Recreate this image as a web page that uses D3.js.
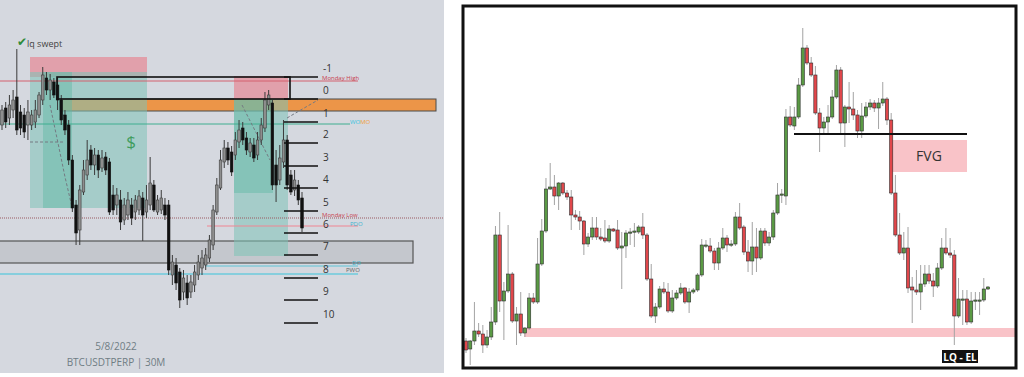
<!DOCTYPE html>
<html>
<head>
<meta charset="utf-8">
<script src="https://cdn.jsdelivr.net/npm/d3@7"></script>
<style>
  body { margin: 0; background: #fff; }
  svg { display: block; font-family: "Open Sans", "DejaVu Sans", sans-serif; }
</style>
</head>
<body>
<svg id="chart" width="1024" height="377"></svg>
<script>
// left panel candles: [open, high, low, close] (price units)
var leftCandles = [
  [248,268,243,263],[265,271,245,251],[255,278,248,268],[263,283,255,273],[276,324,238,243],
  [261,268,238,245],[258,265,235,241],[248,273,233,261],[248,263,243,258],[251,273,245,263],
  [258,281,255,278],[273,306,268,298],[295,301,278,283],[283,299,273,293],[291,295,275,278],
  [288,295,263,273],[273,278,248,253],[258,263,238,243],[248,253,208,213],[213,218,161,165],
  [168,173,128,140],[143,188,128,183],[181,213,178,203],[198,233,193,213],[223,228,203,208],
  [208,225,198,218],[218,223,195,203],[205,223,201,215],[216,221,198,203],[211,215,158,161],
  [178,188,158,163],[168,185,158,178],[173,183,143,151],[153,175,148,168],[158,181,153,173],
  [168,175,148,155],[161,178,153,173],[163,183,158,177],[175,181,132,158],[161,188,155,173],
  [168,216,163,190],[188,193,161,163],[161,178,158,173],[163,183,159,175],[168,175,153,158],
  [168,173,98,103],[98,118,88,111],[108,115,83,90],[101,105,65,73],[81,103,73,95],
  [90,98,68,75],[81,98,75,91],[88,108,81,101],[98,118,93,111],[105,123,98,115],
  [108,125,103,118],[115,138,111,133],[128,168,123,163],[161,195,158,188],[185,223,183,213],
  [211,233,205,225],[225,231,208,213],[221,227,197,201],[218,241,213,233],[231,253,225,243],
  [245,251,228,233],[235,241,218,223],[221,235,216,230],[228,235,211,215],[218,241,213,233],
  [233,255,228,248],[245,281,241,273],[268,283,263,278],[270,273,183,188],[208,223,171,188],
  [193,228,188,215],[211,253,205,233],[233,238,183,188],[198,203,178,181],[183,203,177,193],
  [188,193,168,173],[175,181,141,145]
];

// right panel candles: [open, high, low, close]
var rightCandles = [
  [29,32,17,20],[21,30,5,29],[29,68,25,39],[39,47,33,36],[36,45,17,25],
  [25,40,22,33],[33,63,30,48],[48,144,45,135],[135,158,58,69],[69,88,30,79],
  [79,145,77,96],[96,98,47,49],[49,63,25,56],[56,78,34,37],[37,43,33,42],
  [42,77,40,72],[72,77,66,68],[68,132,66,106],[106,151,104,139],[139,192,137,181],
  [181,207,180,183],[183,195,165,174],[174,188,160,187],[187,188,175,177],[177,180,170,173],
  [173,180,140,155],[155,160,150,153],[153,159,140,149],[149,150,115,126],[126,137,123,133],
  [133,153,130,142],[142,153,130,133],[133,142,129,131],[132,150,127,129],[129,145,127,141],
  [141,142,138,139],[140,150,120,122],[122,138,81,124],[124,140,112,137],[137,142,125,138],
  [138,147,123,139],[138,145,136,143],[143,157,131,135],[135,137,89,91],[91,106,52,54],
  [54,67,47,63],[63,84,61,81],[81,88,76,78],[78,87,57,59],[59,80,57,72],
  [72,80,70,77],[77,87,75,82],[82,83,66,68],[68,82,57,78],[78,82,76,80],
  [80,97,78,95],[95,131,93,125],[124,130,122,125],[124,132,117,119],[119,122,100,107],
  [107,128,100,122],[122,142,120,132],[132,135,118,125],[125,130,123,126],[126,158,124,153],
  [153,167,140,142],[143,145,115,118],[118,130,98,109],[109,148,95,123],[123,142,98,112],
  [112,142,110,139],[139,142,124,127],[127,138,124,133],[133,160,130,157],[157,187,155,175],
  [175,181,167,176],[174,261,165,253],[253,264,243,245],[244,263,240,253],[253,292,251,285],
  [285,342,283,322],[322,325,305,307],[307,313,293,295],[295,304,255,257],[257,262,218,242],
  [242,253,235,248],[248,265,235,253],[253,280,251,273],[273,305,271,300],[300,303,237,247],
  [247,265,223,263],[263,288,247,261],[261,278,250,255],[255,260,232,239],[239,267,232,254],
  [254,268,252,263],[263,271,260,267],[267,270,258,262],[262,272,241,267],[267,288,264,271],
  [271,273,245,250],[250,257,175,177],[177,195,133,135],[135,157,115,117],[117,138,110,122],
  [122,143,77,82],[83,93,47,80],[80,100,75,78],[78,105,60,86],[86,105,83,96],
  [96,105,86,89],[89,97,73,84],[84,107,82,102],[102,132,100,122],[122,142,115,117],
  [117,132,112,115],[115,120,25,54],[54,92,52,71],[70,80,45,71],[71,80,45,48],
  [48,78,46,69],[69,78,60,70],[69,78,55,70],[70,92,68,81],[81,84,80,83]
];

// levels on the left panel (price units)
var fibLevels = [-1,0,1,2,3,4,5,6,7,8,9,10];
var fibPrices = [296,274,251,230,207,185,162,140,118,95,73,50];
var keyLevels = [
  {name:"Monday High", price:292},
  {name:"WOMO", price:249},
  {name:"Monday Low", price:155},
  {name:"PDO", price:147},
  {name:"DO", price:107},
  {name:"PWO", price:99}
];
// right panel zones (price units)
var fvgZone = [198, 230];
var lqZone = [33, 42];
var breakLevel = 236;

var svg = d3.select("#chart");

// ---------- left panel ----------
var L = svg.append("g");
var lx = d3.scaleLinear().domain([0, leftCandles.length - 1]).range([2, 302]);
var ly = d3.scaleLinear().domain([0, 373]).range([373, 0]);

L.append("rect").attr("x",0).attr("y",0).attr("width",444).attr("height",373).attr("fill","#d5d8df");

// orange block and grey block (under the zones)
L.append("rect").attr("x",60).attr("y",ly(274)).attr("width",376).attr("height",ly(262)-ly(274))
  .attr("fill","#ec9548").attr("stroke","#4a4a4a").attr("stroke-width",1);
L.append("rect").attr("x",-1).attr("y",ly(132)).attr("width",414).attr("height",ly(110)-ly(132))
  .attr("fill","#c4c7cd").attr("stroke","#555").attr("stroke-width",1.2);

// zones
function zone(g, x0, x1, p0, p1, fill, op) {
  g.append("rect").attr("x",x0).attr("width",x1-x0)
    .attr("y",ly(p1)).attr("height",ly(p0)-ly(p1))
    .attr("fill",fill).attr("opacity",op);
}
zone(L, 30, 147, 296, 316, "#e48d9a", 0.75);
zone(L, 30, 147, 165, 301, "#7ec3b6", 0.55);
zone(L, 43, 72, 165, 301, "#5fb8a3", 0.45);
zone(L, 234, 288, 274, 297, "#e48d9a", 0.75);
zone(L, 234, 288, 117, 274, "#7ec3b6", 0.55);
zone(L, 234, 273, 180, 274, "#5fb8a3", 0.45);

// key level lines
var lvl = {};
keyLevels.forEach(function(d){ lvl[d.name] = d; });
function hline(x0, x1, p, col, w, dash) {
  var l = L.append("line").attr("x1",x0).attr("x2",x1).attr("y1",ly(p)).attr("y2",ly(p))
    .attr("stroke",col).attr("stroke-width",w);
  if (dash) l.attr("stroke-dasharray",dash);
}
hline(0, 358, lvl["Monday High"].price, "#d4606e", 1);
hline(0, 350, lvl["WOMO"].price, "#3eae90", 1);
hline(0, 444, lvl["Monday Low"].price, "#9a5a62", 1, "1,1");
hline(207, 358, lvl["PDO"].price, "#f08592", 1);
hline(205, 358, lvl["DO"].price, "#5cc4d6", 1);
hline(0, 358, lvl["PWO"].price, "#6ccbdc", 1.3);

// dashed guides
var dashLine = d3.line().x(function(d){return d[0];}).y(function(d){return d[1];});
function dashed(pts) {
  L.append("path").attr("d", dashLine(pts)).attr("fill","none")
    .attr("stroke","#747a82").attr("stroke-width",1).attr("stroke-dasharray","3,2");
}
dashed([[50,105],[58,143],[65,177],[72,207]]);
dashed([[30,142],[63,142]]);
dashed([[242,105],[270,160]]);
dashed([[287,118],[318,100]]);

// candles
var lc = L.append("g").selectAll("g").data(leftCandles).enter().append("g");
lc.append("line")
  .attr("x1",function(d,i){return lx(i);}).attr("x2",function(d,i){return lx(i);})
  .attr("y1",function(d){return ly(d[1]);}).attr("y2",function(d){return ly(d[2]);})
  .attr("stroke","#3a3a3a").attr("stroke-width",1);
lc.append("rect")
  .attr("x",function(d,i){return lx(i)-1.3;}).attr("width",2.6)
  .attr("y",function(d){return ly(Math.max(d[0],d[3]));})
  .attr("height",function(d){return Math.max(1, Math.abs(ly(d[0])-ly(d[3])));})
  .attr("fill",function(d){return d[3]>=d[0] ? "#8e8e8e" : "#111";})
  .attr("stroke",function(d){return d[3]>=d[0] ? "#3c3c3c" : "#111";})
  .attr("stroke-width",0.6);

// range box + fib levels
L.append("rect").attr("x",57).attr("y",ly(296)).attr("width",233).attr("height",ly(274)-ly(296))
  .attr("fill","none").attr("stroke","#111").attr("stroke-width",1.6);
L.selectAll(".fib").data(fibLevels).enter().append("line")
  .attr("x1",284).attr("x2",318)
  .attr("y1",function(d,i){return ly(fibPrices[i]);}).attr("y2",function(d,i){return ly(fibPrices[i]);})
  .attr("stroke","#111").attr("stroke-width",1.6);
L.selectAll(".fibt").data(fibLevels).enter().append("text")
  .attr("x",323).attr("y",function(d,i){return ly(fibPrices[i]) - 5;})
  .attr("font-size",10).attr("fill","#333").text(function(d){return d;});

// labels
function lab(x, p, dy, txt, col, size) {
  L.append("text").attr("x",x).attr("y",ly(p)+dy).attr("font-size",size||6)
    .attr("fill",col).text(txt);
}
lab(322, lvl["Monday High"].price, -1, "Monday High", "#c8404e");
lab(322, lvl["Monday Low"].price, -1, "Monday Low", "#c8404e");
lab(350, lvl["PDO"].price, 0, "PDO", "#3cb4d0");
lab(352, lvl["DO"].price, -1, "DO", "#3cb4d0");
lab(346, lvl["PWO"].price, -2, "PWO", "#666");
var wt = L.append("text").attr("x",350).attr("y",ly(lvl["WOMO"].price)).attr("font-size",6);
wt.append("tspan").attr("fill","#3cc4e0").text("WO");
wt.append("tspan").attr("fill","#f0a040").text("MO");

L.append("text").attr("x",17).attr("y",46).attr("font-size",12).attr("fill","#2e8b3a").text("\u2714");
L.append("text").attr("x",27).attr("y",47).attr("font-size",9).attr("fill","#444").text("lq swept");
L.append("text").attr("x",131).attr("y",148).attr("font-size",17)
  .attr("text-anchor","middle").attr("fill","#3f9d5e").text("$");
L.append("text").attr("x",116).attr("y",350).attr("font-size",10).attr("text-anchor","middle")
  .attr("fill","#6f7d84").text("5/8/2022");
L.append("text").attr("x",116).attr("y",366).attr("font-size",10).attr("text-anchor","middle")
  .attr("fill","#6f7d84").text("BTCUSDTPERP  |  30M");

// ---------- right panel ----------
var R = svg.append("g");
var rx = d3.scaleLinear().domain([0, rightCandles.length - 1]).range([466, 988]);
var ry = d3.scaleLinear().domain([0, 370]).range([370, 0]);

R.append("rect").attr("x",463).attr("y",6).attr("width",553).attr("height",362)
  .attr("fill","#fff");

R.append("rect").attr("x",524).attr("width",493).attr("y",ry(lqZone[1]))
  .attr("height",ry(lqZone[0])-ry(lqZone[1])).attr("fill","#f9c3c8");
R.append("rect").attr("x",892).attr("width",75).attr("y",ry(fvgZone[1]))
  .attr("height",ry(fvgZone[0])-ry(fvgZone[1])).attr("fill","#f9c3c8");
R.append("text").attr("x",929).attr("y",ry((fvgZone[0]+fvgZone[1])/2)+5)
  .attr("text-anchor","middle").attr("font-size",14).attr("fill","#333").text("FVG");

var rc = R.append("g").selectAll("g").data(rightCandles).enter().append("g");
rc.append("line")
  .attr("x1",function(d,i){return rx(i);}).attr("x2",function(d,i){return rx(i);})
  .attr("y1",function(d){return ry(d[1]);}).attr("y2",function(d){return ry(d[2]);})
  .attr("stroke","#a3a3a3").attr("stroke-width",1);
rc.append("rect")
  .attr("x",function(d,i){return rx(i)-1.6;}).attr("width",3.2)
  .attr("y",function(d){return ry(Math.max(d[0],d[3]));})
  .attr("height",function(d){return Math.max(1.2, Math.abs(ry(d[0])-ry(d[3])));})
  .attr("fill",function(d){return d[3]>=d[0] ? "#5a9a44" : "#e1474b";})
  .attr("stroke","#2e2e2e").attr("stroke-width",0.6);

R.append("line").attr("x1",794).attr("x2",967).attr("y1",ry(breakLevel)).attr("y2",ry(breakLevel))
  .attr("stroke","#111").attr("stroke-width",2);

R.append("rect").attr("x",942).attr("y",350).attr("width",36).attr("height",13).attr("fill","#111");
R.append("text").attr("x",960).attr("y",360.5).attr("text-anchor","middle").attr("font-size",10)
  .attr("font-weight","bold").attr("fill","#fff").text("LQ - EL");

R.append("rect").attr("x",463).attr("y",6).attr("width",553).attr("height",362)
  .attr("fill","none").attr("stroke","#111").attr("stroke-width",3);
</script>
</body>
</html>
